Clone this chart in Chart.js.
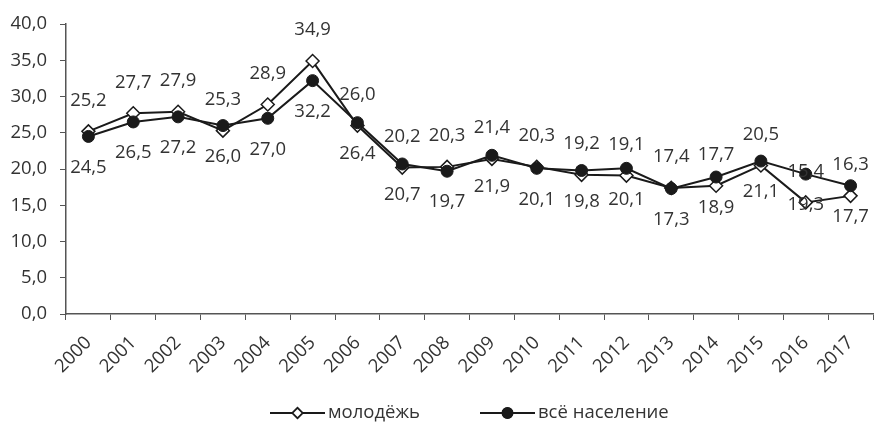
<!DOCTYPE html>
<html>
<head>
<meta charset="utf-8">
<script src="https://cdn.jsdelivr.net/npm/chart.js@4.4.0/dist/chart.umd.min.js"></script>
<style>
  html, body { margin: 0; padding: 0; background: #fff; }
  #wrap { width: 881px; height: 422px; }
</style>
</head>
<body>
<div id="wrap"><canvas id="chart"></canvas></div>
<script>
// Data
const years = ["2000", "2001", "2002", "2003", "2004", "2005", "2006", "2007", "2008",
  "2009", "2010", "2011", "2012", "2013", "2014", "2015", "2016", "2017"];
const youth = [25.2, 27.7, 27.9, 25.3, 28.9, 34.9, 26.0, 20.2, 20.3,
  21.4, 20.3, 19.2, 19.1, 17.4, 17.7, 20.5, 15.4, 16.3];
const population = [24.5, 26.5, 27.2, 26.0, 27.0, 32.2, 26.4, 20.7, 19.7,
  21.9, 20.1, 19.8, 20.1, 17.3, 18.9, 21.1, 19.3, 17.7];
const seriesNames = ["молодёжь", "всё население"];
const yMin = 0, yMax = 40, yStep = 5;

const FONT = "'Open Sans', sans-serif";
const FONT_SIZE = 18.5;
const TEXT = "#333333";
const AXIS = "#555555";
const LINE = "#1a1a1a";

function fmt(v) {
  return v.toFixed(1).replace(".", ",");
}

// value labels: youth above the point, population below
const valueLabels = {
  id: "valueLabels",
  afterDatasetsDraw(chart) {
    const ctx = chart.ctx;
    ctx.save();
    ctx.font = FONT_SIZE + "px " + FONT;
    ctx.fillStyle = TEXT;
    ctx.textAlign = "center";
    ctx.textBaseline = "middle";
    chart.data.datasets.forEach((ds, i) => {
      const meta = chart.getDatasetMeta(i);
      const shift = i === 0 ? -31 : 31;
      meta.data.forEach((pt, j) => {
        ctx.fillText(fmt(ds.data[j]), pt.x, pt.y + shift);
      });
    });
    ctx.restore();
  },
};

// legend drawn under the axis
const bottomLegend = {
  id: "bottomLegend",
  afterDraw(chart) {
    const ctx = chart.ctx;
    const y = 413;
    const items = [
      { x: 270, ds: chart.data.datasets[0] },
      { x: 480, ds: chart.data.datasets[1] },
    ];
    ctx.save();
    items.forEach((it) => {
      ctx.strokeStyle = LINE;
      ctx.lineWidth = 2;
      ctx.beginPath();
      ctx.moveTo(it.x, y);
      ctx.lineTo(it.x + 55, y);
      ctx.stroke();
      Chart.helpers.drawPoint(ctx, {
        pointStyle: it.ds.pointStyle,
        radius: 5,
        borderWidth: 1.5,
      }, it.x + 27.5, y);
      ctx.fillStyle = it.ds.pointBackgroundColor;
      ctx.strokeStyle = LINE;
      ctx.lineWidth = 1.5;
      ctx.fill();
      ctx.stroke();
      ctx.font = FONT_SIZE + "px " + FONT;
      ctx.fillStyle = TEXT;
      ctx.textAlign = "left";
      ctx.textBaseline = "middle";
      ctx.fillText(it.ds.label, it.x + 58, y);
    });
    ctx.restore();
  },
};

const ctx = document.getElementById("chart").getContext("2d");
new Chart(ctx, {
  type: "line",
  data: {
    labels: years,
    datasets: [
      {
        label: seriesNames[0],
        data: youth,
        order: 1,
        borderColor: LINE,
        borderWidth: 2,
        pointStyle: "rectRot",
        pointRadius: 6.5,
        pointBackgroundColor: "#ffffff",
        pointBorderColor: LINE,
        pointBorderWidth: 1.5,
        tension: 0,
      },
      {
        label: seriesNames[1],
        data: population,
        order: 0,
        borderColor: LINE,
        borderWidth: 2,
        pointStyle: "circle",
        pointRadius: 6,
        pointBackgroundColor: LINE,
        pointBorderColor: LINE,
        pointBorderWidth: 1,
        tension: 0,
      },
    ],
  },
  options: {
    responsive: true,
    maintainAspectRatio: false,
    animation: false,
    layout: { padding: { top: 20, right: 2, left: 0, bottom: 38 } },
    plugins: {
      legend: { display: false },
      tooltip: { enabled: false },
    },
    scales: {
      x: {
        offset: true,
        grid: {
          offset: true,
          drawOnChartArea: false,
          drawTicks: true,
          tickLength: 6,
          color: AXIS,
        },
        border: { display: true, color: AXIS, width: 1.5 },
        ticks: {
          autoSkip: false,
          maxRotation: 45,
          minRotation: 45,
          padding: 12,
          color: TEXT,
          font: { family: FONT, size: FONT_SIZE },
        },
        afterFit(scale) {
          scale.height = 70;
        },
      },
      y: {
        min: yMin,
        max: yMax,
        grid: {
          drawOnChartArea: false,
          drawTicks: true,
          tickLength: 6,
          color: AXIS,
        },
        border: { display: true, color: AXIS, width: 1.5 },
        ticks: {
          stepSize: yStep,
          padding: 13,
          color: TEXT,
          font: { family: FONT, size: FONT_SIZE },
          callback: (v) => fmt(v),
        },
        afterFit(scale) {
          scale.width = 66;
        },
      },
    },
  },
  plugins: [valueLabels, bottomLegend],
});
</script>
</body>
</html>
